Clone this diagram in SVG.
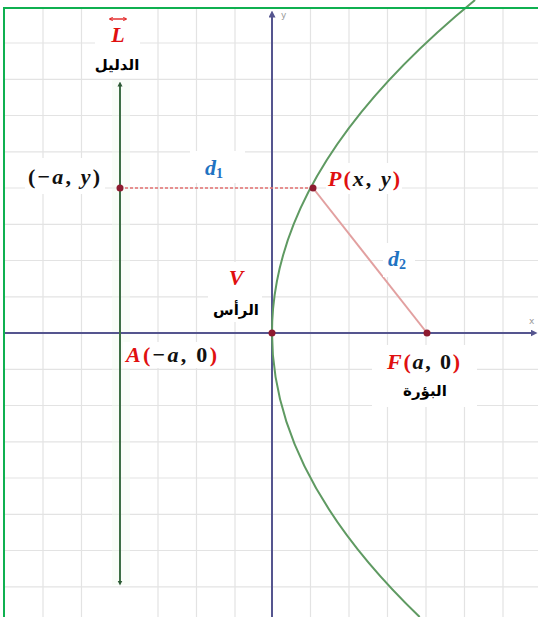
<svg xmlns="http://www.w3.org/2000/svg" width="538" height="617" viewBox="0 0 538 617">
<style>
.grid line{stroke:#e3e3e3;stroke-width:1.2}
.bg{fill:#ffffff}
.m{font-family:"Liberation Serif","DejaVu Serif",serif;font-weight:bold;font-size:22px}
.it{font-style:italic}
.r{fill:#e01010}
.k{fill:#111111}
.b{fill:#1f73c2}
.ar{font-family:"DejaVu Sans","Noto Sans",sans-serif;font-weight:bold;font-size:15px;fill:#000}
.ax{stroke:#55558f;stroke-width:2}
.pt{fill:#8e1b30}
.small{font-family:"DejaVu Sans",sans-serif;font-size:9px;fill:#9a9a9a}
</style>
<defs>
<marker id="dirArrow" viewBox="0 0 10 10" refX="5" refY="5" markerWidth="5" markerHeight="6" orient="auto-start-reverse" markerUnits="userSpaceOnUse">
<path d="M0,0 L10,5 L0,10 z" fill="#2d5a35"/>
</marker>
<marker id="axArrow" viewBox="0 0 10 10" refX="5" refY="5" markerWidth="7" markerHeight="7" orient="auto" markerUnits="userSpaceOnUse">
<path d="M0,0 L10,5 L0,10 z" fill="#55558f"/>
</marker>
<marker id="lArrow" viewBox="0 0 10 10" refX="8" refY="5" markerWidth="4" markerHeight="4" orient="auto-start-reverse" markerUnits="userSpaceOnUse">
<path d="M0,0 L10,5 L0,10" fill="none" stroke="#e01010" stroke-width="2"/>
</marker>
</defs>
<rect width="538" height="617" fill="#ffffff"/>
<g class="grid">
<line x1="43" y1="8" x2="43" y2="617"/>
<line x1="81.5" y1="8" x2="81.5" y2="617"/>
<line x1="158" y1="8" x2="158" y2="617"/>
<line x1="196.5" y1="8" x2="196.5" y2="617"/>
<line x1="235" y1="8" x2="235" y2="617"/>
<line x1="310.5" y1="8" x2="310.5" y2="617"/>
<line x1="349" y1="8" x2="349" y2="617"/>
<line x1="387.5" y1="8" x2="387.5" y2="617"/>
<line x1="426" y1="8" x2="426" y2="617"/>
<line x1="464.5" y1="8" x2="464.5" y2="617"/>
<line x1="503" y1="8" x2="503" y2="617"/>
<line x1="4" y1="43" x2="538" y2="43"/>
<line x1="4" y1="79.3" x2="538" y2="79.3"/>
<line x1="4" y1="115.5" x2="538" y2="115.5"/>
<line x1="4" y1="151.8" x2="538" y2="151.8"/>
<line x1="4" y1="188" x2="538" y2="188"/>
<line x1="4" y1="224.3" x2="538" y2="224.3"/>
<line x1="4" y1="260.5" x2="538" y2="260.5"/>
<line x1="4" y1="296.8" x2="538" y2="296.8"/>
<line x1="4" y1="369.3" x2="538" y2="369.3"/>
<line x1="4" y1="405.5" x2="538" y2="405.5"/>
<line x1="4" y1="441.8" x2="538" y2="441.8"/>
<line x1="4" y1="478" x2="538" y2="478"/>
<line x1="4" y1="514.3" x2="538" y2="514.3"/>
<line x1="4" y1="550.5" x2="538" y2="550.5"/>
<line x1="4" y1="586.8" x2="538" y2="586.8"/>
</g>
<rect x="112" y="80" width="18" height="505" fill="#f2fbf0" opacity="0.45"/>
<g id="axes">
<line class="ax" x1="4" y1="333" x2="534" y2="333" marker-end="url(#axArrow)"/>
<line class="ax" x1="272" y1="617" x2="272" y2="14" marker-end="url(#axArrow)"/>
<text class="small" x="529" y="324">x</text>
<text class="small" x="281" y="18">y</text>
</g>
<g id="connectors">
<line x1="120" y1="188" x2="313" y2="188" stroke="#e27070" stroke-width="1.5" stroke-dasharray="3,2"/>
<line x1="313" y1="188" x2="427" y2="333" stroke="#e2a0a0" stroke-width="2"/>
</g>
<g id="directrix">
<line x1="120" y1="84" x2="120" y2="583" stroke="#3e6f46" stroke-width="2" marker-start="url(#dirArrow)" marker-end="url(#dirArrow)"/>
</g>
<g id="parabola">
<path d="M475.05,0 Q98.83,308.5 419.69,617" fill="none" stroke="#5f9a62" stroke-width="2"/>
</g>
<rect x="4" y="8" width="540" height="615" fill="none" stroke="#0fb050" stroke-width="2"/>
<g id="label-L">
<rect class="bg" x="95" y="14" width="45" height="62"/>
<line x1="110" y1="19" x2="126" y2="19" stroke="#e01010" stroke-width="1.3" marker-start="url(#lArrow)" marker-end="url(#lArrow)"/>
<text class="m it r" x="118" y="42" text-anchor="middle" font-size="25">L</text>
<text class="ar" x="117" y="70" text-anchor="middle">الدليل</text>
</g>
<g id="point-Q">
<rect class="bg" x="25" y="158" width="80" height="36"/>
<text class="m k" x="28" y="184" textLength="72" lengthAdjust="spacing">(−<tspan class="it">a</tspan>, <tspan class="it">y</tspan>)</text>
<circle class="pt" cx="120" cy="188" r="3.5"/>
</g>
<g id="label-d1">
<rect class="bg" x="190" y="151" width="55" height="32"/>
<text class="m it b" x="205" y="175">d<tspan font-size="14" font-style="normal" dy="3">1</tspan></text>
</g>
<g id="point-P">
<rect class="bg" x="326" y="163" width="76" height="31"/>
<text class="m" x="328" y="186" textLength="72" lengthAdjust="spacing"><tspan class="it r">P</tspan><tspan class="r">(</tspan><tspan class="it k">x</tspan><tspan class="k">, </tspan><tspan class="it k">y</tspan><tspan class="r">)</tspan></text>
<circle class="pt" cx="313" cy="188" r="3.5"/>
</g>
<g id="label-d2">
<rect class="bg" x="383" y="243" width="32" height="34"/>
<text class="m it b" x="388" y="266">d<tspan font-size="14" font-style="normal" dy="3">2</tspan></text>
</g>
<g id="point-V">
<rect class="bg" x="208" y="262" width="54" height="60"/>
<text class="m it r" x="236" y="285" text-anchor="middle">V</text>
<text class="ar" x="236" y="315" text-anchor="middle">الرأس</text>
<circle class="pt" cx="272" cy="333" r="3.5"/>
</g>
<g id="point-A">
<rect class="bg" x="123" y="342" width="98" height="26"/>
<text class="m" x="126" y="362" textLength="91" lengthAdjust="spacing"><tspan class="it r">A</tspan><tspan class="r">(</tspan><tspan class="k">−</tspan><tspan class="it k">a</tspan><tspan class="k">, 0</tspan><tspan class="r">)</tspan></text>
</g>
<g id="point-F">
<rect class="bg" x="372" y="345" width="105" height="62"/>
<text class="m" x="387" y="369" textLength="73" lengthAdjust="spacing"><tspan class="it r">F</tspan><tspan class="r">(</tspan><tspan class="it k">a</tspan><tspan class="k">, 0</tspan><tspan class="r">)</tspan></text>
<text class="ar" x="425" y="396" text-anchor="middle">البؤرة</text>
<circle class="pt" cx="427" cy="333" r="3.5"/>
</g>
</svg>
